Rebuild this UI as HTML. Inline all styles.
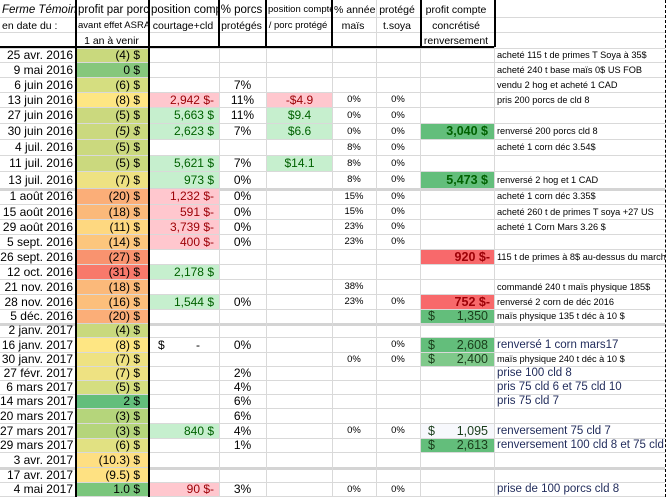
<!DOCTYPE html>
<html><head><meta charset="utf-8">
<style>
body{margin:0;width:668px;height:497px;overflow:hidden;background:#fff;font-family:"Liberation Sans",Arial,sans-serif;position:relative}
.c{position:absolute;box-sizing:border-box;white-space:nowrap;overflow:hidden;font-size:11.5px;line-height:1}
.h{position:absolute;font-size:11px;white-space:nowrap;overflow:hidden;text-align:center}
.vl{position:absolute;background:#000}
.gl{position:absolute;background:#d9d9d9}
</style></head><body>
<div id="grid"></div>
<script>
const dates=["25 avr. 2016","9 mai 2016","6 juin 2016","13 juin 2016","27 juin 2016","30 juin 2016","4 juil. 2016","11 juil. 2016","13 juil. 2016","1 août 2016","15 août 2016","29 août 2016","5 sept. 2016","26 sept. 2016","12 oct. 2016","21 nov. 2016","28 nov. 2016","5 déc. 2016","2 janv. 2017","16 janv. 2017","30 janv. 2017","27 févr. 2017","6 mars 2017","14 mars 2017","20 mars 2017","27 mars 2017","29 mars 2017","3 avr. 2017","17 avr. 2017","4 mai 2017"];
const profit=["(4)","0","(6)","(8)","(5)","(5)","(5)","(5)","(7)","(20)","(18)","(11)","(14)","(27)","(31)","(18)","(16)","(20)","(4)","(8)","(7)","(7)","(5)","2","(3)","(3)","(6)","(10.3)","(9.5)","1.0"];
const pcol=["#c9d97d","#86c77c","#d5de80","#fee683","#cbd97e","#cbd97e","#cbd97e","#cbd97e","#eee282","#fbae78","#fbb97a","#fed880","#fcc67d","#f9936f","#f8796b","#fbb97a","#fcbf7b","#fbae78","#c9d97d","#fee683","#eee282","#eee282","#d5de80","#63be7b","#b5d57b","#b5d57b","#e1e182","#fedf82","#fee182","#7ac67c"];
const pos=["","","","2,942 $-","5,663 $","2,623 $","","5,621 $","973 $","1,232 $-","591 $-","3,739 $-","400 $-","","2,178 $","","1,544 $","","","$-","","","","","","840 $","","","","90 $-"];
const pct=["","","7%","11%","11%","7%","","7%","0%","0%","0%","0%","0%","","","","0%","","","0%","","2%","4%","6%","6%","4%","1%","","","3%"];
const ppp=["","","","-$4.9","$9.4","$6.6","","$14.1","","","","","","","","","","","","","","","","","","","","","",""];
const mais=["","","","0%","0%","0%","8%","8%","8%","15%","15%","23%","23%","","","38%","23%","","","","0%","","","","","0%","","","","0%"];
const soya=["","","","0%","0%","0%","0%","0%","0%","0%","0%","0%","0%","","","","0%","","","0%","0%","","","","","0%","","","","0%"];
const reel=["","","","","","3,040 $","","","5,473 $","","","","","920 $-","","","752 $-","1,350","","2,608","2,400","","","","","1,095","2,613","","",""];
const reelCol=["","","","","","#63be7b","","","#63be7b","","","","","#f8696b","","","#f8696b","#63be7b","","#63be7b","#7fc98a","","","","","#f7f8fc","#63be7b","","",""];
const notes=["acheté 115 t de primes T Soya à 35$","acheté 240 t base maïs 0$ US FOB","vendu 2 hog et acheté 1 CAD","pris 200 porcs de cld 8","","renversé 200 porcs cld 8","acheté 1 corn déc 3.54$","","renversé 2 hog et 1 CAD","acheté 1 corn déc 3.35$","acheté 260 t de primes T soya +27 US","acheté 1 Corn Mars 3.26 $","","115 t de primes à 8$ au-dessus du marché","","commandé 240 t maïs physique 185$","renversé 2 corn de déc 2016","maïs physique 135 t déc à 10 $","","renversé 1 corn mars17","maïs physique 240 t déc à 10 $","prise 100 cld 8","pris 75 cld 6 et 75 cld 10","pris 75 cld 7","","renversement 75 cld 7","renversement 100 cld 8 et 75  cld 6","","","prise de 100 porcs cld 8"];
const bounds=[49,63,78,93,108,124,140,156,172,189,205,220,235,250,265,280,295,310,324,338,353,367,381,395,409,424,439,453,468,483,497];
const cols=[0,76,149,219,266,332,376,420,494,668];
const g=document.getElementById('grid');
function add(cls,x,y,w,h,txt,st){const d=document.createElement('div');d.className=cls;d.style.cssText=`left:${x}px;top:${y}px;width:${w}px;height:${h}px;`+(st||'');if(txt!==undefined)d.textContent=txt;g.appendChild(d);return d;}
// header
const H=[["Ferme Témoin","en date du :",""],["profit par porc","avant effet ASRA","1 an à venir"],["position  compte","courtage+cld",""],["% porcs","protégés",""],["position compte","/ porc protégé",""],["% année","maïs",""],["protégé","t.soya",""],["profit  compte","concrétisé","renversement"],["","",""]];
const hy=[3,19,34];
const leftAlign={"0-0":1,"0-1":1,"1-0":1,"1-1":1,"2-0":1,"4-0":1,"5-0":1};
for(let c=0;c<9;c++){for(let r=0;r<3;r++){if(!H[c][r])continue;let fs=(r==0&&c<4)?11.5:10.5;if(c==4||c==1&&r==1)fs=9.5;let st=`font-size:${fs}px;line-height:14px;`+(leftAlign[c+'-'+r]?'text-align:left;padding-left:2px;':'')+(c==0&&r==0?'font-style:italic;':'');const e=add('h',cols[c],hy[r],cols[c+1]-cols[c]-2,14,H[c][r],st);}}
// gridlines
for(let i=0;i<bounds.length;i++){const y=bounds[i];const sep=(i==9||i==18||i==28);const e=add('gl',0,y-1,665,sep?3:1,undefined,sep?'background:#d4d4d4':'');}
add('gl',0,17,665,1);add('gl',0,32,665,1);
for(let c=1;c<9;c++){const e=add('gl',cols[c],0,1,497);}
// rows
for(let i=0;i<dates.length;i++){
 const y=bounds[i],h=bounds[i+1]-bounds[i]-1;
 let e=add('c',0,y,75,h,dates[i],`text-align:right;padding-right:2px;line-height:${h}px;font-size:12px`);
 
 e=add('c',77,y,71,h,profit[i]+' $',`text-align:right;padding-right:8px;line-height:${h}px;background:${pcol[i]};font-size:12px;`+(i==5?'font-style:italic':''));
 
 if(pos[i]){const neg=pos[i].includes('-')&&pos[i]!='$-';let st=`padding-right:5px;text-align:right;line-height:${h}px;font-size:12px;`;let t=pos[i];
  if(pos[i]=='$-'){st+='background:#fff;color:#000;';t='';}
  else st+=neg?'background:#ffc7ce;color:#9c0006;':'background:#c6efce;color:#006100;';
  e=add('c',150,y,69,h,t,st);
  if(pos[i]=='$-'){add('c',158,y,20,h,'$',`line-height:${h}px;font-size:12px`);add('c',196,y,10,h,'-',`line-height:${h}px;font-size:12px`);}}
 if(pct[i]){e=add('c',219,y,47,h,pct[i],`text-align:center;line-height:${h}px;font-size:12px`);}
 if(ppp[i]){const neg=ppp[i][0]=='-';e=add('c',267,y,65,h,ppp[i],`text-align:center;line-height:${h}px;font-size:12px;`+(neg?'background:#ffc7ce;color:#9c0006':'background:#c6efce;color:#006100'));}
 if(mais[i]){e=add('c',332,y,44,h,mais[i],`text-align:center;line-height:${h}px;font-size:9.5px`);}
 if(soya[i]){e=add('c',376,y,44,h,soya[i],`text-align:center;line-height:${h}px;font-size:9.5px`);}
 if(reel[i]){const neg=reel[i].includes('-');const dol=!reel[i].includes('$');let st=`text-align:right;padding-right:${neg?4:6}px;line-height:${h}px;font-size:12.5px;background:${reelCol[i]};`+(dol?'color:#1a3d1a;':(neg?'color:#9c0006;font-weight:bold;':'color:#006100;font-weight:bold;'));
  e=add('c',421,y,73,h,reel[i],st);
  if(dol)add('c',428,y,12,h,'$',`line-height:${h}px;font-size:12.5px;color:#1a3d1a`);}
 if(notes[i]){const big=i>=19&&i!=20;e=add('c',497,y,168,h,notes[i],`line-height:${h}px;font-size:${big?11.5:9.2}px;`+(big?'color:#1f2a5a':''));}
}
// black borders
const vb=[[75,0,47],[148,0,497],[218,0,47],[265,0,47],[331,0,47],[420,0,47],[494,0,47],[75,47,450]];
vb.forEach(v=>{const e=add('vl',v[0],v[1],2,v[2]);});
let e=add('vl',0,46,494,2);
e=add('c',665,0,1,497,undefined,'border-left:1px dashed #000');
</script>
</body></html>
